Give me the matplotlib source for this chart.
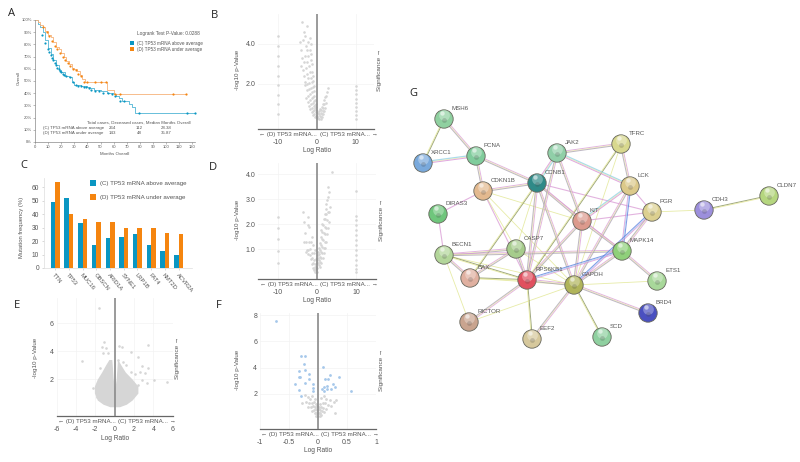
import numpy as np
import matplotlib

matplotlib.use("Agg")
import matplotlib.pyplot as plt

plt.rcParams["font.family"] = ["Liberation Sans", "DejaVu Sans"]

W, H = 800, 462
TEXT = "#555555"
GREY = "#d6d6d6"
BLUE = "#0a96c2"
ORANGE = "#f5850f"

# A: survival curves
km_c_months = [0, 2, 4, 6, 8, 10, 12, 14, 16, 18, 20, 23, 26, 28, 30, 35, 40, 42, 45, 50, 55, 60, 62, 64, 66, 70, 72, 74, 76, 80, 123]
km_c_pct = [100, 97, 94, 90, 84, 77, 72, 67, 63, 59, 57, 54, 53, 49, 46.5, 45.5, 45, 44, 43, 42, 40, 39.5, 38, 36, 34, 34, 31, 29, 24, 23.5, 23.5]
km_d_months = [0, 2, 4, 6, 8, 10, 12, 14, 16, 18, 20, 22, 24, 26, 28, 30, 32, 34, 36, 38, 55, 60, 115]
km_d_pct = [100, 98, 96, 94, 91, 88, 86, 82, 78, 76, 73, 70, 66, 64, 61, 60, 58, 55, 52, 49, 43, 39, 39]
censor_c_months = [5, 8, 10, 11, 12, 13, 14, 15, 16, 17, 18, 19, 20, 21, 22, 24, 27, 29, 31, 33, 35, 37, 39, 41, 43, 46, 49, 52, 56, 59, 61, 65, 68, 79, 116, 122]
censor_c_pct = [88, 81, 76, 74, 71, 69, 67, 65, 63, 61, 60, 58, 57, 56, 55, 54, 53, 49, 46.5, 45.5, 45.5, 45, 45, 44, 43, 42, 42, 40, 40, 39.5, 38, 34, 34, 23.5, 23.5, 23.5]
censor_d_months = [6, 9, 11, 13, 15, 17, 19, 21, 23, 25, 27, 29, 31, 33, 35, 37, 40, 46, 50, 54, 61, 65, 105, 115]
censor_d_pct = [94, 90, 87, 83, 79, 76, 73, 70, 67, 65, 62, 60, 59, 56, 54, 49, 49, 49, 49, 49, 39, 39, 39, 39]

# C: mutation frequency
genes = ["TTN", "TP53", "MUC16", "OBSCN", "ARID1A", "SYNE1", "LRP1B", "FAT4", "KMT2D", "ACVR2A"]
freq_c = [49, 52, 33, 17, 22, 23, 25.5, 17, 12.5, 9.5]
freq_d = [64, 40, 36, 34, 34, 30, 30, 29.5, 26, 25.5]

# B: volcano
b_x = [-10] * 9 + [10] * 9 + [
    -3.8, -2.5, -3.2, -3.0, -3.6, -4.2, -2.2, -1.7, -2.8, -1.5, -4.1, -2.5, -1.6, -3.8, -3.0, -2.2, -1.4,
    -4.0, -3.2, -2.4, -1.5, -3.6, -2.7, -1.9, -1.2, -3.2, -2.5, -1.8, -1.2, -2.9, -2.2, -1.5, -1.0,
    -3.0, -2.5, -1.9, -1.3, -0.9, -2.6, -2.0, -1.5, -1.0, -0.7, -2.7, -2.1, -1.6, -1.1, -0.7, -2.3, -1.8, -1.3, -0.9, -0.6,
    -2.0, -1.5, -1.0, -0.6, -0.4, -1.6, -1.2, -0.8, -0.5, -0.3, -1.2, -0.9, -0.6, -0.4, -0.2, -0.9, -0.6, -0.3, -0.1, -0.5, -0.2,
    2.8, 2.6, 2.5, 2.2, 2.0, 2.4, 1.9, 1.5, 2.1, 1.7, 1.3, 1.9, 1.5, 1.1, 0.8, 1.6, 1.3, 1.0, 0.6, 1.4, 1.1, 0.8, 0.5, 0.3, 1.0, 0.7, 0.4, 0.2, 0.1,
]
b_y = [0.5, 0.98, 1.45, 1.93, 2.42, 2.9, 3.4, 3.9, 4.4] + [0.23, 0.45, 0.65, 0.87, 1.07, 1.27, 1.48, 1.7, 1.9] + [
    5.1, 4.9, 4.6, 4.4, 4.2, 4.1, 4.1, 4.3, 3.9, 4.0, 3.7, 3.7, 3.7, 3.3, 3.4, 3.4, 3.5,
    2.9, 3.1, 3.1, 3.2, 2.7, 2.8, 2.9, 3.0, 2.4, 2.5, 2.6, 2.6, 2.1, 2.3, 2.3, 2.4,
    1.95, 2.0, 2.05, 2.1, 2.15, 1.7, 1.75, 1.8, 1.85, 1.9, 1.3, 1.4, 1.5, 1.6, 1.65, 1.1, 1.2, 1.3, 1.35, 1.4,
    0.9, 1.0, 1.05, 1.15, 1.2, 0.75, 0.8, 0.9, 0.95, 1.0, 0.6, 0.65, 0.72, 0.8, 0.85, 0.45, 0.5, 0.6, 0.7, 0.35, 0.4,
    1.8, 1.6, 1.4, 1.35, 1.2, 1.05, 1.0, 1.0, 0.8, 0.8, 0.85, 0.65, 0.65, 0.7, 0.75, 0.5, 0.5, 0.55, 0.65, 0.35, 0.35, 0.4, 0.5, 0.55, 0.25, 0.25, 0.3, 0.35, 0.4,
]

# D: volcano
d_x = [-10] * 5 + [10] * 14 + [
    3.8, 2.9, 3.0, 2.8, 2.6, 2.4, 2.2, 3.2, 3.0, 2.7, 2.3, 2.0, 3.0, 2.5, 2.1, 1.8, 2.7, 2.4, 2.0, 1.6, 1.3, 2.5, 2.1, 1.7, 1.3, 1.1,
    2.4, 2.0, 1.6, 1.2, 0.9, 2.1, 1.7, 1.3, 0.9, 0.7, 1.8, 1.4, 1.0, 0.7, 0.5, 1.5, 1.1, 0.8, 0.5, 0.3, 1.1, 0.8, 0.5, 0.3, 0.2, 0.8, 0.5, 0.2, 0.1,
    -3.6, -3.4, -2.4, -2.4, -2.0, -3.0, -2.8, -3.2, -2.0, -1.5, -2.6, -2.2, -1.8, -1.3, -2.7, -2.3, -1.9, -1.4, -1.0, -1.6, -1.2, -0.8, -1.3, -1.0, -0.7, -0.4,
    -0.9, -0.6, -0.4, -0.2, -0.7, -0.5, -0.3, -0.1, -0.6, -0.3, -0.1, 0.0,
]
d_y = [0.45, 0.92, 1.39, 1.83, 2.3] + [3.32, 2.33, 2.16, 1.96, 1.76, 1.56, 1.36, 1.16, 0.96, 0.76, 0.56, 0.36, 0.19, 0.1] + [
    4.1, 3.5, 3.3, 3.1, 2.95, 2.8, 2.6, 2.7, 2.5, 2.5, 2.4, 2.4, 2.1, 2.15, 2.2, 2.2, 1.85, 1.85, 1.9, 1.95, 2.0, 1.6, 1.6, 1.65, 1.7, 1.75,
    1.3, 1.3, 1.35, 1.4, 1.5, 1.05, 1.05, 1.1, 1.15, 1.25, 0.85, 0.85, 0.9, 0.95, 1.05, 0.65, 0.65, 0.7, 0.8, 0.9, 0.45, 0.5, 0.55, 0.65, 0.75, 0.3, 0.35, 0.45, 0.55,
    2.5, 2.1, 2.3, 1.95, 1.9, 1.65, 1.3, 1.3, 1.3, 1.3, 0.95, 0.95, 1.0, 1.5, 0.9, 0.8, 0.75, 0.85, 1.15, 0.6, 0.65, 0.85, 0.4, 0.45, 0.55, 0.95,
    0.25, 0.3, 0.4, 0.6, 0.15, 0.2, 0.3, 0.45, 0.1, 0.15, 0.25, 0.1,
]

# E: dense cloud, read as left and right envelopes at each p-value level
e_levels = [0.02, 0.1, 0.2, 0.5, 1.0, 1.5, 2.0, 2.5, 3.0, 3.4]
e_left_outer = [-0.5, -0.8, -1.2, -1.8, -2.1, -2.1, -1.8, -1.35, -0.95, -0.6]
e_left_inner = [0.0, 0.0, 0.0, 0.0, 0.0, -0.05, -0.15, -0.2, -0.25, -0.3]
e_right_inner = [0.0, 0.0, 0.0, 0.0, 0.0, 0.05, 0.15, 0.2, 0.25, 0.28]
e_right_outer = [0.5, 0.8, 1.2, 1.8, 2.4, 2.4, 1.8, 1.1, 0.65, 0.32]
e_out_x = [-1.62, -3.4, -1.07, -1.34, -0.9, -0.65, -1.17, -1.5, 0.48, 0.72, 3.48, 1.69, 2.38, 0.3, 0.83, 1.17, 2.8, 3.4, 3.1, 2.6, 2.1, 1.65, 4.07, 5.38, 3.3, 2.8, 2.45, 2.1, -1.86, -2.2]
e_out_y = [7.05, 3.3, 4.67, 4.3, 4.2, 3.83, 3.9, 2.76, 4.36, 4.3, 4.43, 3.95, 3.6, 3.36, 3.24, 3.0, 2.95, 2.76, 2.4, 2.5, 2.36, 2.5, 1.93, 1.8, 1.7, 1.93, 1.57, 1.2, 0.74, 1.33]

# F: significant points in blue, the rest in grey
f_sig_x = [-0.72, -0.30, -0.22, -0.25, -0.32, -0.22, -0.16, -0.16, -0.32, -0.31, -0.39, -0.23, -0.32, -0.09, -0.086, -0.086, -0.30, 0.086, 0.115, 0.167, 0.21, 0.36, 0.26, 0.29, 0.23, 0.155, 0.11, 0.07, 0.155, 0.10, 0.57]
f_sig_y = [7.55, 4.87, 4.87, 4.26, 3.78, 3.85, 3.52, 3.11, 3.32, 3.27, 2.73, 2.8, 2.3, 2.75, 2.42, 2.24, 1.8, 4.08, 3.16, 3.16, 3.47, 3.32, 2.75, 2.55, 2.4, 2.6, 2.5, 2.35, 2.35, 2.25, 2.24]
f_ns_x = [-0.22, -0.18, -0.14, -0.1, -0.05, 0.05, 0.1, 0.14, 0.2, 0.27, 0.31, -0.28, -0.2, -0.15, -0.11, -0.07, -0.04, 0.04, 0.08, 0.12, 0.17, 0.23, -0.17, -0.12, -0.09, -0.05, -0.02, 0.02, 0.05, 0.09, 0.13, -0.1, -0.07, -0.04, -0.02, 0.02, 0.04, 0.07, 0.1, -0.05, -0.03, -0.01, 0.01, 0.03, 0.06, -0.03, 0.0, 0.03, 0.3]
f_ns_y = [1.9, 1.75, 1.6, 1.8, 1.6, 1.7, 1.85, 1.6, 1.5, 1.4, 1.5, 1.3, 1.35, 1.3, 1.3, 1.4, 1.25, 1.25, 1.3, 1.3, 1.15, 1.1, 1.0, 1.0, 1.05, 1.0, 1.1, 1.0, 1.0, 0.95, 0.85, 0.7, 0.75, 0.8, 0.75, 0.8, 0.75, 0.7, 0.6, 0.5, 0.55, 0.55, 0.55, 0.5, 0.4, 0.3, 0.3, 0.3, 0.5]

# G: interaction network
node_names = ["MSH6", "XRCC1", "PCNA", "JAK2", "TFRC", "CCNB1", "CDKN1B", "DIRAS3", "KIT", "LCK", "PGR", "CDH3", "CLDN7", "MAPK14", "BECN1", "CASP7", "BAX", "RPS6KB1", "GAPDH", "RICTOR", "EEF2", "SCD", "BRD4", "ETS1"]
node_x = [444, 423, 476, 557, 621, 537, 483, 438, 582, 630, 652, 704, 769, 622, 444, 516, 470, 527, 574, 469, 532, 602, 648, 657]
node_y = [119, 163, 156, 153, 144, 183, 191, 214, 221, 186, 212, 210, 196, 251, 255, 249, 278, 280, 285, 322, 339, 337, 313, 281]
node_colors = ["#8fd0a0", "#79a9dc", "#80cc9c", "#90cfa8", "#d8d88e", "#2f8a88", "#e3b98f", "#6fc67c", "#dc9a8d", "#dcc98a", "#dcd090", "#9c8fdc", "#b5d67f", "#8fd07a", "#b3d69a", "#a6cc8c", "#e0b0a0", "#e0505f", "#b0b45a", "#c9a48f", "#d6c89c", "#8fd0a0", "#4a50c0", "#a8d89a"]
edges_bundle = [("MSH6", "PCNA"), ("PCNA", "CDKN1B"), ("PCNA", "CCNB1"), ("CDKN1B", "CCNB1"), ("CCNB1", "KIT"), ("CCNB1", "GAPDH"), ("CCNB1", "RPS6KB1"), ("JAK2", "TFRC"), ("JAK2", "KIT"), ("JAK2", "RPS6KB1"), ("BECN1", "CASP7"), ("BECN1", "BAX"), ("BECN1", "MAPK14"), ("RPS6KB1", "RICTOR"), ("RPS6KB1", "GAPDH"), ("BAX", "CASP7"), ("CASP7", "RPS6KB1"), ("KIT", "GAPDH"), ("GAPDH", "LCK"), ("GAPDH", "BRD4"), ("GAPDH", "EEF2"), ("GAPDH", "MAPK14"), ("TFRC", "LCK"), ("PGR", "MAPK14"), ("KIT", "MAPK14"), ("MAPK14", "ETS1"), ("RPS6KB1", "KIT")]
edges_cyan = [("XRCC1", "PCNA"), ("JAK2", "CCNB1"), ("JAK2", "LCK"), ("KIT", "LCK")]
edges_blue = [("LCK", "MAPK14"), ("RPS6KB1", "MAPK14"), ("GAPDH", "PGR")]
edges_dark = [("CCNB1", "BAX"), ("TFRC", "RPS6KB1"), ("RPS6KB1", "EEF2"), ("GAPDH", "SCD"), ("CDH3", "CLDN7"), ("BAX", "RPS6KB1"), ("BECN1", "RPS6KB1"), ("MSH6", "XRCC1")]
edges_yellow = [("CDKN1B", "KIT"), ("CDKN1B", "CASP7"), ("CDKN1B", "GAPDH"), ("CCNB1", "CASP7"), ("TFRC", "GAPDH"), ("BECN1", "RICTOR"), ("GAPDH", "RICTOR"), ("GAPDH", "ETS1"), ("PGR", "CDH3"), ("BECN1", "GAPDH"), ("CASP7", "GAPDH"), ("BAX", "GAPDH")]
edges_magenta = [("CDKN1B", "DIRAS3"), ("DIRAS3", "BECN1"), ("CCNB1", "PGR"), ("KIT", "PGR"), ("LCK", "PGR"), ("CCNB1", "MAPK14"), ("CDKN1B", "RPS6KB1")]


def pixel_axes(left, right, top, bottom):
    return fig.add_axes([left / W, 1 - bottom / H, (right - left) / W, (bottom - top) / H])


def volcano_axes(rect, xlim, ylim, xticks, xlabels, yticks, ylabels):
    ax = pixel_axes(*rect)
    ax.set_xlim(*xlim)
    ax.set_ylim(*ylim)
    for side in ["top", "left", "right"]:
        ax.spines[side].set_visible(False)
    ax.spines["bottom"].set_color("#666666")
    ax.spines["bottom"].set_linewidth(0.9)
    ax.set_xticks(xticks, xlabels)
    ax.set_yticks(yticks, ylabels)
    ax.tick_params(length=0, labelsize=5.0, labelcolor=TEXT)
    ax.tick_params(axis="x", pad=7.5)
    ax.tick_params(axis="y", pad=2)
    ax.grid(color="#f3f3f3", lw=0.5)
    ax.set_axisbelow(True)
    ax.axvline(0, color="#8a8a8a", lw=1.2, zorder=5)
    return ax


def volcano_text(cx, left, y_axis, y_label, x_ylab, x_sig, y_mid):
    over.text(left, y_axis + 5.5, "\u2190 (D) TP53 mRNA...", fontsize=4.4, color=TEXT, ha="left", va="center")
    over.text(cx + 3, y_axis + 5.5, "(C) TP53 mRNA... \u2192", fontsize=4.4, color=TEXT, ha="left", va="center")
    over.text(cx, y_label, "Log Ratio", fontsize=4.8, color=TEXT, ha="center", va="center")
    over.text(x_ylab, y_mid, "-log10 p-Value", fontsize=4.5, color=TEXT, rotation=90, ha="center", va="center")
    over.text(x_sig, y_mid, "Significance \u2192", fontsize=4.6, color=TEXT, rotation=90, ha="center", va="center")


fig = plt.figure(figsize=(W / 100, H / 100), dpi=100)
over = fig.add_axes([0, 0, 1, 1], zorder=10)
over.set_xlim(0, W)
over.set_ylim(H, 0)
over.axis("off")

# panel A
ax = pixel_axes(35, 195, 20, 142)
ax.set_xlim(0, 122)
ax.set_ylim(0, 100)
ax.step(km_c_months, km_c_pct, where="post", color="#4fb4d4", lw=0.6)
ax.step(km_d_months, km_d_pct, where="post", color="#f6b27a", lw=0.6)
ax.scatter(censor_c_months, censor_c_pct, s=2.5, color=BLUE, lw=0, clip_on=False, zorder=3)
ax.scatter(censor_d_months, censor_d_pct, s=2.5, color=ORANGE, lw=0, clip_on=False, zorder=3)
for side in ["top", "right"]:
    ax.spines[side].set_visible(False)
for side in ["left", "bottom"]:
    ax.spines[side].set_color("#888888")
    ax.spines[side].set_linewidth(0.5)
ax.set_xticks(range(0, 121, 10))
ax.set_yticks(range(0, 101, 10), [f"{v}%" for v in range(0, 101, 10)])
ax.tick_params(length=1.2, width=0.4, color="#888888", labelsize=3, labelcolor=TEXT, pad=1)
over.text(19, 78, "Overall", fontsize=3.2, color=TEXT, rotation=90, ha="center", va="center")
over.text(115, 154, "Months Overall", fontsize=3.2, color=TEXT, ha="center", va="center")
over.text(137, 33, "Logrank Test P-Value: 0.0288", fontsize=3.4, color=TEXT, va="center")
over.scatter([132, 132], [43, 49], s=5, marker="s", color=[BLUE, ORANGE], lw=0)
over.text(137, 43, "(C) TP53 mRNA above average", fontsize=3.3, color=TEXT, va="center")
over.text(137, 49, "(D) TP53 mRNA under average", fontsize=3.3, color=TEXT, va="center")
over.text(191, 123, "Total cases, Deceased cases, Median Months Overall", fontsize=3.2, color=TEXT, ha="right", va="center")
for y, row in zip([128, 133], [("(C) TP53 mRNA above average", "264", "112", "28.38"), ("(D) TP53 mRNA under average", "143", "48", "35.87")]):
    over.text(43, y, row[0], fontsize=3.2, color=TEXT, va="center")
    over.text(112, y, row[1], fontsize=3.2, color=TEXT, ha="center", va="center")
    over.text(139, y, row[2], fontsize=3.2, color=TEXT, ha="center", va="center")
    over.text(166, y, row[3], fontsize=3.2, color=TEXT, ha="center", va="center")

# panel C
ax = pixel_axes(44, 192, 178, 268)
ax.set_xlim(-0.82, 9.98)
ax.set_ylim(0, 66.7)
pos = np.arange(len(genes))
ax.bar(pos - 0.165, freq_c, 0.33, color=BLUE)
ax.bar(pos + 0.165, freq_d, 0.33, color=ORANGE)
for side in ["top", "right"]:
    ax.spines[side].set_visible(False)
for side in ["left", "bottom"]:
    ax.spines[side].set_color("#dddddd")
    ax.spines[side].set_linewidth(0.5)
ax.set_yticks(range(0, 61, 10))
ax.set_xticks(pos, genes, rotation=-50, ha="left", rotation_mode="anchor")
ax.tick_params(length=1.5, width=0.4, color="#bbbbbb", labelsize=4.2, labelcolor=TEXT, pad=2)
ax.tick_params(axis="y", labelsize=4.8)
over.text(21, 227, "Mutation frequency (%)", fontsize=4.2, color=TEXT, rotation=90, ha="center", va="center")
over.scatter([93, 93], [183, 197], s=14, marker="s", color=[BLUE, ORANGE], lw=0)
over.text(100, 183, "(C) TP53 mRNA above average", fontsize=4.4, color=TEXT, va="center")
over.text(100, 197, "(D) TP53 mRNA under average", fontsize=4.4, color=TEXT, va="center")

# panel B
ax = volcano_axes((258, 374, 14, 129), (-15.05, 14.7), (-0.25, 5.5), [-10, 0, 10], ["-10", "0", "10"], [2, 4], ["2.0", "4.0"])
ax.scatter(b_x, b_y, s=3.5, color=GREY, lw=0)
volcano_text(316.7, 259, 129, 151, 237, 380, 70)

# panel D
ax = volcano_axes((258, 376, 163, 279), (-15.1, 15.1), (-0.2, 4.44), [-10, 0, 10], ["-10", "0", "10"], [1, 2, 3, 4], ["1.0", "2.0", "3.0", "4.0"])
ax.scatter(d_x, d_y, s=3.5, color=GREY, lw=0)
volcano_text(317, 260, 279, 301, 238, 381, 220)

# panel E
ax = volcano_axes((56.7, 172.7, 298, 415.7), (-6, 6), (-0.62, 7.8), [-6, -4, -2, 0, 2, 4, 6], ["-6", "-4", "-2", "0", "2", "4", "6"], [2, 4, 6], ["2", "4", "6"])
ax.fill_betweenx(e_levels, e_left_outer, e_left_inner, color=GREY, lw=0)
ax.fill_betweenx(e_levels, e_right_inner, e_right_outer, color=GREY, lw=0)
ax.scatter(e_out_x, e_out_y, s=3.5, color=GREY, lw=0)
volcano_text(114.7, 58, 415.7, 438, 36, 178, 358)

# panel F
ax = volcano_axes((260, 376, 312.7, 428.7), (-1, 1), (-0.67, 8.2), [-1, -0.5, 0, 0.5, 1], ["-1", "-0.5", "0", "0.5", "1"], [2, 4, 6, 8], ["2", "4", "6", "8"])
ax.scatter(f_ns_x, f_ns_y, s=4, color=GREY, lw=0)
ax.scatter(f_sig_x, f_sig_y, s=4, color="#a6c8ea", lw=0)
volcano_text(317.7, 261, 428.7, 451, 238, 382, 370)

# panel letters
for letter, x, y in [("A", 12, 14), ("B", 214, 16), ("C", 24, 165), ("D", 213, 167), ("E", 17, 306), ("F", 219, 306), ("G", 413, 93)]:
    over.text(x, y, letter, fontsize=8, color="#222222", ha="center", va="center", family=["Open Sans", "DejaVu Sans"])

# panel G
coords = {name: (x, y) for name, x, y in zip(node_names, node_x, node_y)}


def draw_edges(edges, strands):
    for a, b in edges:
        p = np.array(coords[a], float)
        q = np.array(coords[b], float)
        d = q - p
        n = np.array([-d[1], d[0]]) / np.hypot(*d)
        for off, color, lw in strands:
            s = p + n * off
            e = q + n * off
            over.plot([s[0], e[0]], [s[1], e[1]], color=color, lw=lw, alpha=0.75, solid_capstyle="butt", zorder=1)


draw_edges(edges_yellow, [(0, "#dfe58a", 0.6)])
draw_edges(edges_magenta, [(0, "#d99ad4", 0.8)])
draw_edges(edges_dark, [(-0.4, "#7f8a55", 0.7), (0.5, "#e3e68c", 0.6)])
draw_edges(edges_bundle, [(-0.9, "#d99ad8", 0.7), (0, "#eceba8", 0.6), (0.8, "#a89fb0", 0.7)])
draw_edges(edges_cyan, [(-1.2, "#8fd0e6", 0.9), (-0.2, "#e4e59a", 0.5), (0.7, "#d68ad6", 0.7)])
draw_edges(edges_blue, [(-0.9, "#5a78e0", 0.8), (0, "#a8d4ee", 0.7), (0.9, "#d68ad6", 0.6)])

# sphere look: dark rim, base colour, lighter top and a small highlight
over.scatter(node_x, node_y, s=175, c=node_colors, edgecolors="#66665c", linewidths=0.6, zorder=3)
over.scatter(node_x, np.array(node_y) - 4, s=60, color="white", alpha=0.3, lw=0, zorder=4)
over.scatter(np.array(node_x) - 2, np.array(node_y) - 6, s=10, color="white", alpha=0.55, lw=0, zorder=4)
over.scatter(node_x, np.array(node_y) + 1, s=12, color="#444444", alpha=0.22, lw=0, zorder=4)
for name, x, y in zip(node_names, node_x, node_y):
    over.text(x + 8, y - 10.5, name, fontsize=4.4, color="#555555", va="center", zorder=6)

fig.savefig("out.png", dpi=100)
